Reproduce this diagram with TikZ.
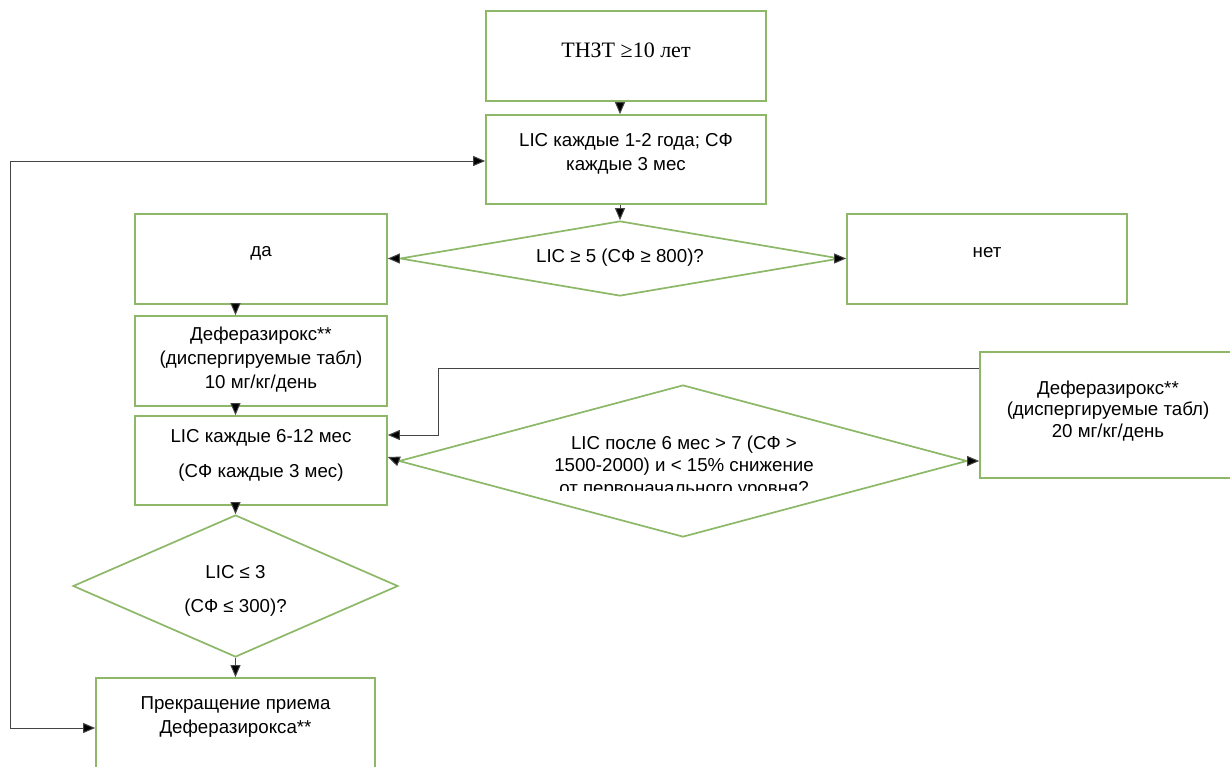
\documentclass[tikz,border=0pt]{standalone}
\usepackage{fontspec}
\setmainfont{Liberation Sans}
\newfontfamily\seriffont{Liberation Serif}
\usetikzlibrary{shapes.geometric,arrows.meta}
\definecolor{boxgreen}{HTML}{8CB868}
\definecolor{linegray}{HTML}{444444}
\tikzset{
  box/.style={draw=boxgreen, line width=1.7pt, rectangle, inner sep=0pt},
  dia/.style={draw=boxgreen, line width=1.7pt, diamond, inner sep=0pt},
  txt/.style={align=center, inner sep=0pt, font=\fontsize{18.7}{24}\selectfont},
  conn/.style={draw=linegray, line width=1pt, -{Triangle[length=12pt,width=10pt,fill=black]}},
  bothconn/.style={draw=linegray, line width=1pt, {Triangle[length=12pt,width=10pt,fill=black]}-{Triangle[length=12pt,width=10pt,fill=black]}}
}
\begin{document}
\begin{tikzpicture}[x=1pt,y=-1pt]
\useasboundingbox (0,0) rectangle (1230,766);
\clip (0,0) rectangle (1230,766);
\fill[white] (0,0) rectangle (1230,766);

% boxes
\node[box, minimum width=280pt, minimum height=90pt] (b1) at (626,56) {};
\node[box, minimum width=280pt, minimum height=89pt] (b2) at (626,159.5) {};
\node[box, minimum width=252pt, minimum height=90pt] (da) at (261,259) {};
\node[box, minimum width=280pt, minimum height=90pt] (net) at (987,259) {};
\node[box, minimum width=252pt, minimum height=90pt] (def10) at (261,361) {};
\node[box, minimum width=252pt, minimum height=89pt] (lic612) at (261,460.5) {};
\node[box, minimum width=279pt, minimum height=92pt] (stop) at (235.5,724) {};
\node[box, minimum width=256pt, minimum height=126pt] (def20) at (1108,415) {};

% diamonds
\node[dia, minimum width=440pt, minimum height=75pt] (d1) at (620,258.5) {};
\node[dia, minimum width=568pt, minimum height=152pt] (d2) at (683,461) {};
\node[dia, minimum width=325pt, minimum height=142pt] (d3) at (235.5,586) {};

% texts
\node[txt, font=\seriffont\fontsize{22}{26}\selectfont] (b1t) at (626,50) {ТНЗТ ≥10 лет};
\node[txt] (b2t) at (626,154) {LIC каждые 1-2 года; СФ\\каждые 3 мес};
\node[txt] (dat) at (261,253) {да};
\node[txt] (nett) at (987,253) {нет};
\node[txt] (def10t) at (261,360) {Деферазирокс**\\(диспергируемые табл)\\10 мг/кг/день};
\node[txt] (lic612t) at (261,455.5) {LIC каждые 6-12 мес\\[11pt](СФ каждые 3 мес)};
\node[txt] (d1t) at (620,258) {LIC ≥ 5 (СФ ≥ 800)?};
\begin{scope}
\clip (540,400) rectangle (830,490);
\node[txt, font=\fontsize{18.7}{22.5}\selectfont] (d2t) at (684,467) {LIC после 6 мес > 7 (СФ >\\1500-2000) и < 15\% снижение\\от первоначального уровня?};
\end{scope}
\node[txt] (d3a) at (235.5,572) {LIC ≤ 3};
\node[txt] (d3b) at (235.5,608) {(СФ ≤ 300)?};
\node[txt] (stopt) at (235.5,716.5) {Прекращение приема\\Деферазирокса**};
\node[txt, font=\fontsize{18.7}{21.5}\selectfont] (def20t) at (1108,411) {Деферазирокс**\\(диспергируемые табл)\\20 мг/кг/день};

% connectors
\draw[conn] (b1.south -| d1.north) -- (b2.north -| d1.north);
\draw[conn] (b2.south -| d1.north) -- (d1.north);
\draw[conn] (d1.west) -- (da.east |- d1.west);
\draw[conn] (d1.east) -- (net.west |- d1.east);
\draw[conn] (da.south -| d3.north) -- (def10.north -| d3.north);
\draw[conn] (def10.south -| d3.north) -- (lic612.north -| d3.north);
\draw[conn] (lic612.south -| d3.north) -- (d3.north);
\draw[conn] (d3.south) -- (stop.north -| d3.south);
\draw[conn] (d2.west) -- (lic612.east |- 0,457);
\draw[conn] (d2.east) -- (def20.west |- d2.east);

\coordinate (k1) at (438,368);
\coordinate (k2) at (438,435);
\draw[conn] (k1 -| def20.west) -- (k1) -- (k2) -- (k2 -| lic612.east);

\coordinate (l1) at (10,161);
\coordinate (l2) at (10,728);
\draw[bothconn] (l1 -| b2.west) -- (l1) -- (l2) -- (l2 -| stop.west);
\end{tikzpicture}
\end{document}
